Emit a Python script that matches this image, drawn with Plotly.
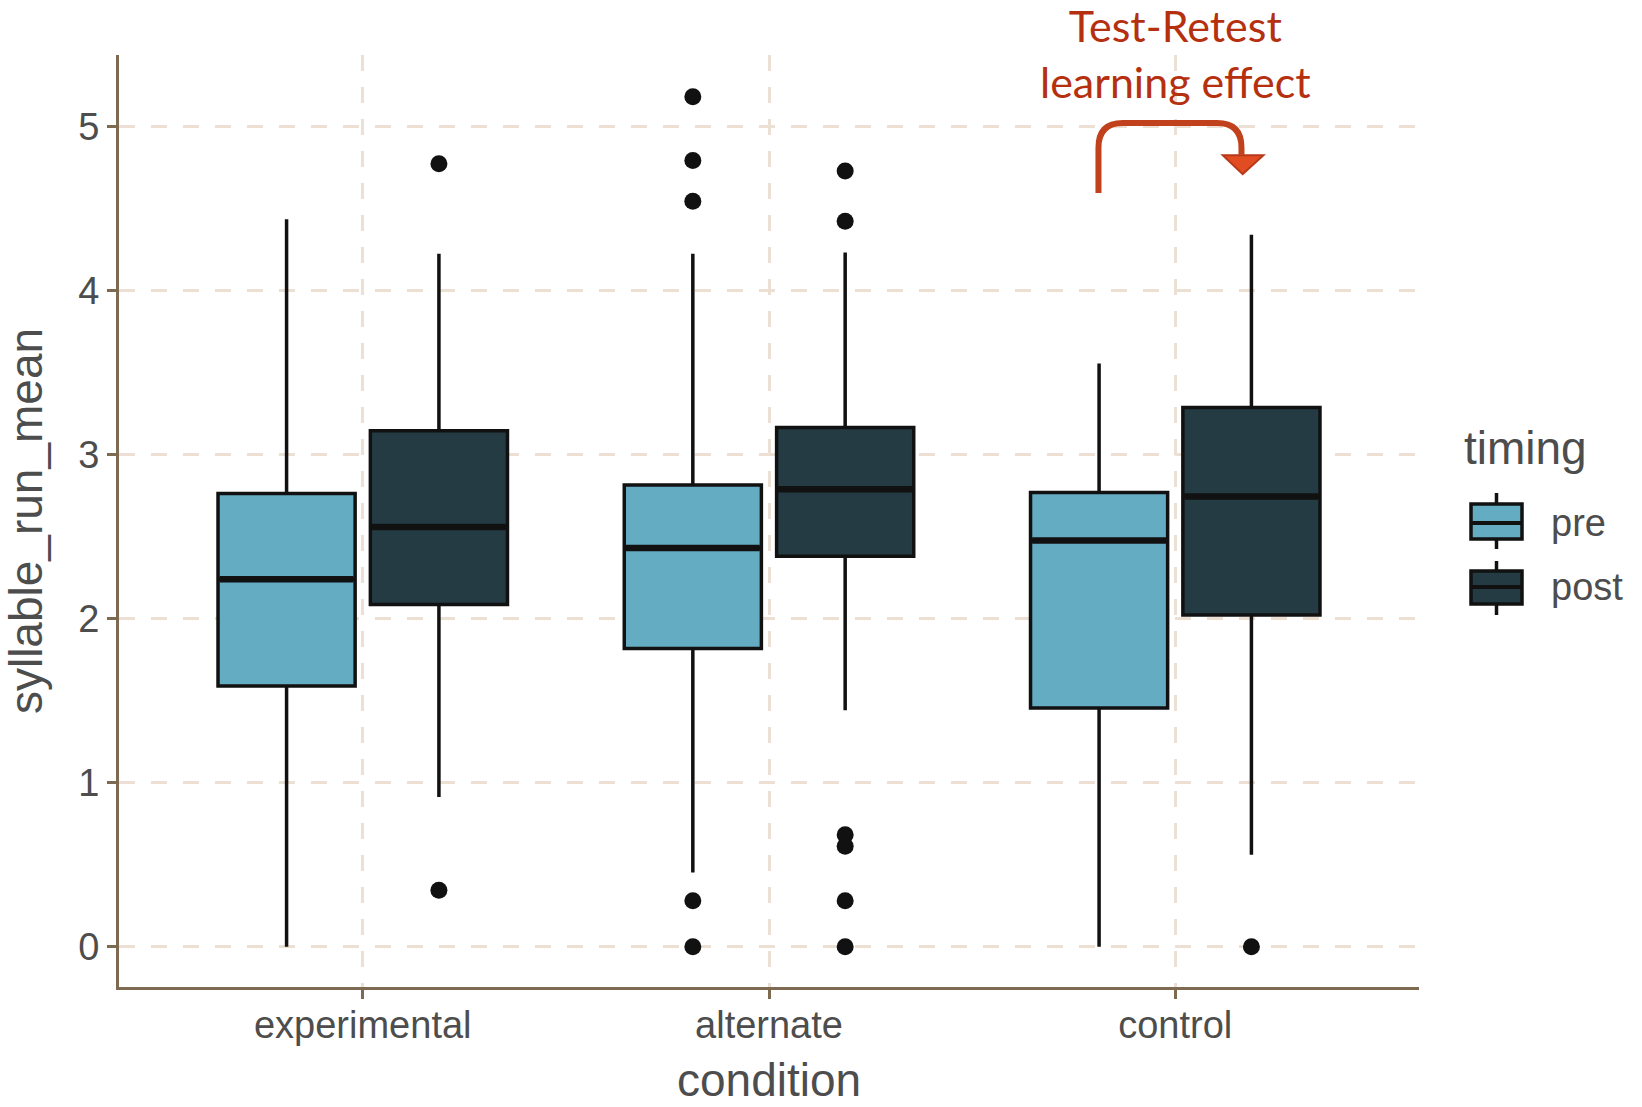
import plotly.graph_objects as go

# ---------------- data ----------------
conditions = ["experimental", "alternate", "control"]
timings = ["pre", "post"]

pre_q1 = [1.590, 1.820, 1.456]
pre_median = [2.241, 2.433, 2.478]
pre_q3 = [2.765, 2.816, 2.771]
pre_lower = [0.000, 0.453, 0.000]
pre_upper = [4.438, 4.227, 3.557]

post_q1 = [2.088, 2.382, 2.024]
post_median = [2.561, 2.791, 2.746]
post_q3 = [3.148, 3.167, 3.289]
post_lower = [0.913, 1.443, 0.562]
post_upper = [4.227, 4.234, 4.342]

pre_outlier_cond = ["alternate", "alternate", "alternate", "alternate", "alternate"]
pre_outlier_vals = [5.185, 4.796, 4.547, 0.281, 0.000]
post_outlier_cond = ["experimental", "experimental", "alternate", "alternate", "alternate",
                     "alternate", "alternate", "alternate", "control"]
post_outlier_vals = [4.776, 0.345, 4.732, 4.425, 0.683, 0.613, 0.281, 0.000, 0.000]

y_ticks = [0, 1, 2, 3, 4, 5]

# ---------------- style ----------------
W, H = 1642, 1107
ML, MR, MT, MB = 119, 223, 55, 120
PW, PH = W - ML - MR, H - MT - MB

FILL = {"pre": "#64ACC2", "post": "#243B44"}
EDGE = "#111111"
AXIS = "#7E6A50"
GRID = "#EBE0D3"
TXT = "#4D4D4D"
RED = "#B5300E"
DODGE = 0.1875
BOXW = 0.3375


def px_x(p):
    return (p - ML) / PW


def px_y(p):
    return (H - MB - p) / PH


stats = {
    "pre": (pre_q1, pre_median, pre_q3, pre_lower, pre_upper, pre_outlier_cond, pre_outlier_vals),
    "post": (post_q1, post_median, post_q3, post_lower, post_upper, post_outlier_cond, post_outlier_vals),
}
offsets = {"pre": -DODGE, "post": DODGE}
idx = {c: i for i, c in enumerate(conditions)}

fig = go.Figure()
for t in timings:
    q1, med, q3, lo, hi, oc, ov = stats[t]
    xs = [i + offsets[t] for i in range(len(conditions))]
    fig.add_trace(go.Box(
        x=xs, q1=q1, median=med, q3=q3, lowerfence=lo, upperfence=hi,
        width=BOXW, name=t, fillcolor=FILL[t], showlegend=False,
        line=dict(color=EDGE, width=3.5), boxpoints=False, whiskerwidth=0,
        hoverinfo="skip",
    ))
    mx, my = [], []
    for x, m in zip(xs, med):
        mx += [x - BOXW / 2 + 0.004, x + BOXW / 2 - 0.004, None]
        my += [m, m, None]
    fig.add_trace(go.Scatter(x=mx, y=my, mode="lines", line=dict(color=EDGE, width=6.5),
                             showlegend=False, hoverinfo="skip"))
    fig.add_trace(go.Scatter(
        x=[idx[c] + offsets[t] for c in oc], y=ov, mode="markers",
        marker=dict(color=EDGE, size=17), showlegend=False, hoverinfo="skip"))

# ---------------- custom legend (ggplot style keys) ----------------
fig.add_annotation(x=px_x(1462), y=px_y(448), xref="paper", yref="paper", text="timing",
                   showarrow=False, xanchor="left", yanchor="middle",
                   font=dict(size=46, color=TXT))
key_rows = {"pre": (504, 539, 523, 493, 549), "post": (571, 604, 587, 561, 615)}
for t in timings:
    top, bot, mid, wt, wb = key_rows[t]
    xc = 1496.5
    fig.add_shape(type="line", xref="paper", yref="paper",
                  x0=px_x(xc), x1=px_x(xc), y0=px_y(wt), y1=px_y(wb),
                  line=dict(color=EDGE, width=3.5))
    fig.add_shape(type="rect", xref="paper", yref="paper",
                  x0=px_x(1471), x1=px_x(1522), y0=px_y(top), y1=px_y(bot),
                  fillcolor=FILL[t], line=dict(color=EDGE, width=3.5))
    fig.add_shape(type="line", xref="paper", yref="paper",
                  x0=px_x(1471), x1=px_x(1522), y0=px_y(mid), y1=px_y(mid),
                  line=dict(color=EDGE, width=4))
    fig.add_annotation(x=px_x(1549), y=px_y(mid), xref="paper", yref="paper", text=t,
                       showarrow=False, xanchor="left", yanchor="middle",
                       font=dict(size=38, color=TXT))

# ---------------- x axis title ----------------
fig.add_annotation(x=0.5, y=px_y(1080), xref="paper", yref="paper", text="condition",
                   showarrow=False, xanchor="center", yanchor="middle",
                   font=dict(size=46, color=TXT))

# ---------------- annotation arrow ----------------
xl, xr = 1.811, 2.163
ytop, ybot = 5.024, 4.598
rx, ry = 0.06, 0.15
path = (f"M {xl},{ybot} L {xl},{ytop-ry} Q {xl},{ytop} {xl+rx},{ytop} "
        f"L {xr-rx},{ytop} Q {xr},{ytop} {xr},{ytop-ry} L {xr},4.83")
fig.add_shape(type="path", path=path, xref="x", yref="y",
              line=dict(color="#C0411C", width=6), layer="above")
fig.add_shape(type="path", path="M 2.117,4.827 L 2.217,4.827 L 2.166,4.712 Z",
              xref="x", yref="y", fillcolor="#E24C22",
              line=dict(color="#B8391A", width=2), layer="above")
fig.add_annotation(x=2.0, y=px_y(54), xref="x", yref="paper", text="Test-Retest<br>learning effect",
                   showarrow=False, yanchor="middle", xanchor="center",
                   font=dict(family="Lato", size=43, color=RED))

fig.update_layout(
    width=W, height=H,
    paper_bgcolor="white", plot_bgcolor="white",
    margin=dict(l=ML, r=MR, t=MT, b=MB, autoexpand=False),
    boxmode="overlay",
    font=dict(family="Liberation Sans, Arial, sans-serif", color=TXT),
    showlegend=False,
)
fig.update_xaxes(
    range=[-0.6, 2.6], tickvals=list(range(len(conditions))), ticktext=conditions,
    showgrid=True, gridcolor=GRID, gridwidth=3, griddash="16px,16px",
    showline=True, linecolor=AXIS, linewidth=3,
    ticks="outside", ticklen=9, tickwidth=3, tickcolor=AXIS, ticklabelstandoff=-7,
    tickfont=dict(size=38, color=TXT), zeroline=False, automargin=False,
)
fig.update_yaxes(
    range=[-0.245, 5.439], tickvals=y_ticks,
    showgrid=True, gridcolor=GRID, gridwidth=3, griddash="16px,16px",
    showline=True, linecolor=AXIS, linewidth=3,
    ticks="outside", ticklen=9, tickwidth=3, tickcolor=AXIS,
    tickfont=dict(size=38, color=TXT), zeroline=False, automargin=False,
    title=dict(text="syllable_run_mean", font=dict(size=46, color=TXT), standoff=22),
)

fig.write_html("out.html", config={"displayModeBar": False},
               post_script="document.body.style.margin='0';")
